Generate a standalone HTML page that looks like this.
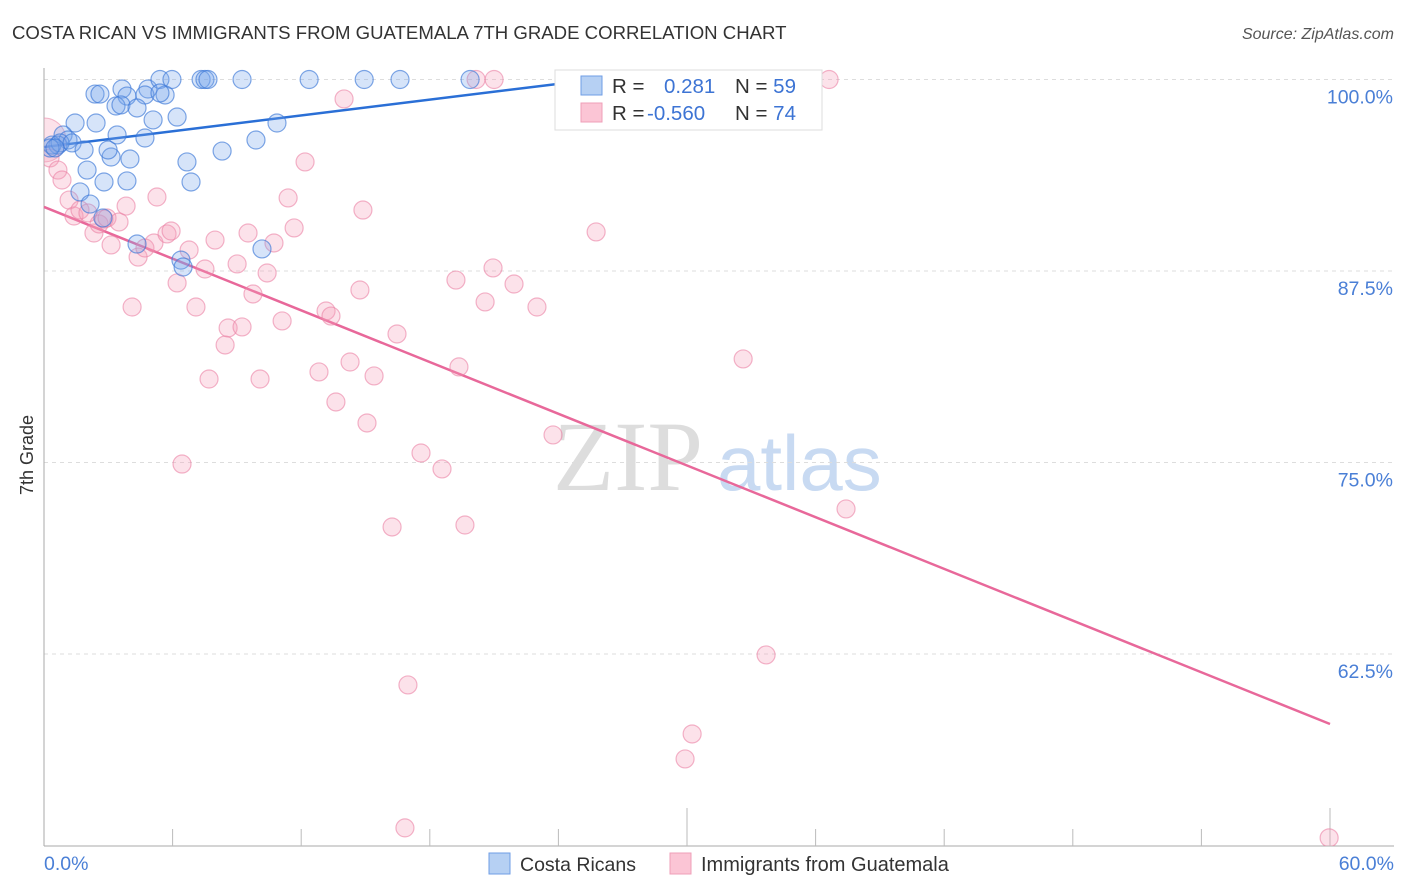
<!DOCTYPE html>
<html><head><meta charset="utf-8"><style>
body{margin:0;background:#fff;font-family:"Liberation Sans",sans-serif;}
svg{display:block}
</style></head><body>
<svg id="c" width="1406" height="892" xmlns="http://www.w3.org/2000/svg">
<defs><clipPath id="plotclip"><rect x="44" y="60" width="1360" height="786"/></clipPath></defs>
<text x="12" y="39" font-size="18.6" fill="#333">COSTA RICAN VS IMMIGRANTS FROM GUATEMALA 7TH GRADE CORRELATION CHART</text>
<text x="1394" y="39" font-size="16" fill="#555" text-anchor="end" font-style="italic">Source: ZipAtlas.com</text>
<text transform="translate(33,455) rotate(-90)" font-size="18" fill="#333" text-anchor="middle">7th Grade</text>
<g>
<text x="553" y="490" font-size="100" fill="#ddd" font-family="Liberation Serif,serif">ZIP</text>
<text x="717" y="490" font-size="78" fill="#c8daf2">atlas</text>
</g>
<g id="grid"></g><g id="axes"></g><g id="lines"></g><g id="pts" clip-path="url(#plotclip)"></g>
<g>
<rect x="555" y="70" width="267" height="60" fill="#fff" stroke="#ddd"/>
<rect x="581" y="76" width="21" height="19" fill="#b6d0f3" stroke="#6f9ee6"/>
<rect x="581" y="103" width="21" height="19" fill="#fbc5d5" stroke="#ef9fb8"/>
<text x="612" y="93" font-size="20.5" fill="#333">R = <tspan x="664" fill="#3d74d4">0.281</tspan><tspan x="735" fill="#333">N = </tspan><tspan fill="#3d74d4">59</tspan></text>
<text x="612" y="120" font-size="20.5" fill="#333">R = <tspan x="647" fill="#3d74d4">-0.560</tspan><tspan x="735" fill="#333">N = </tspan><tspan fill="#3d74d4">74</tspan></text>
</g>
<g>
<rect x="489" y="853" width="21" height="21" fill="#b6d0f3" stroke="#6f9ee6"/>
<text x="520" y="871" font-size="19.5" fill="#333">Costa Ricans</text>
<rect x="670" y="853" width="21" height="21" fill="#fbc5d5" stroke="#ef9fb8"/>
<text x="701" y="871" font-size="20" fill="#333">Immigrants from Guatemala</text>
</g>
</svg>
<script>
const yTicks=[100,87.5,75,62.5];
const yTickLabels=["100.0%","87.5%","75.0%","62.5%"];
const xTickLabels=["0.0%","60.0%"];
const blueX=[2.38,2.61,3.64,3.87,4.85,5.41,5.97,5.65,4.71,5.41,7.33,7.51,7.65,9.24,12.37,14.94,16.61,19.88,3.36,3.59,4.34,5.09,6.21,2.43,1.45,0.89,1.12,0.65,0.37,0.75,1.31,1.87,3.13,2.99,4.01,4.71,3.41,6.67,8.31,9.89,10.87,2.01,2.80,3.87,6.86,1.68,2.15,2.75,4.34,6.39,6.49,10.17,0.28,0.51];
const blueY=[99.05,99.05,99.38,98.92,99.38,100,100,98.99,98.99,99.12,100,100,100,100,100,100,100,100,98.27,98.34,98.14,97.36,97.55,97.16,97.16,96.38,96.05,95.72,95.72,95.86,95.86,95.40,94.94,95.40,94.81,96.18,96.38,94.62,95.33,96.05,97.16,94.09,93.31,93.38,93.31,92.66,91.87,90.96,89.26,88.21,87.76,88.94,95.53,95.53];
const pinkX=[0.28,0.65,1.17,1.40,1.68,2.05,2.33,2.57,2.80,2.94,3.50,3.83,3.13,4.39,4.71,5.13,5.27,5.74,5.93,6.77,7.51,7.98,6.21,7.09,4.11,8.45,8.59,9.24,7.70,10.08,9.75,9.52,9.01,10.41,10.73,11.11,11.39,11.67,12.18,12.83,13.16,13.39,13.62,14.28,14.74,14.00,14.88,15.07,15.40,16.47,17.59,18.57,16.24,19.64,19.36,19.22,20.58,20.95,21.93,23.00,23.75,25.76,32.62,37.42,33.69,16.98,30.24,29.91,16.84,59.96,6.44,20.16,21.00,36.63,0.84];
const pinkY=[94.88,94.09,92.13,91.09,91.48,91.29,89.98,90.57,90.89,90.96,90.70,91.74,89.20,88.41,89.00,89.33,92.33,89.92,90.11,88.87,87.63,89.52,86.72,85.15,85.15,82.67,83.78,83.85,80.45,80.45,86.00,89.98,87.96,87.37,89.33,84.24,92.27,90.31,94.62,80.91,84.89,84.56,78.95,81.56,86.26,98.73,91.48,77.58,80.65,83.39,75.62,74.58,70.79,70.92,81.24,86.91,85.48,87.70,86.65,85.15,76.80,90.05,81.76,71.97,62.44,60.48,57.28,55.65,51.15,50.50,74.90,100,100,100,93.44];
const blueTrend=[95.59,99.97],blueTrendX=[0,25.48];
const pinkTrend=[91.68,57.93],pinkTrendX=[0,60];
const NS="http://www.w3.org/2000/svg";
const X=v=>44+v/60*1286;
const Y=v=>79.5+(100-v)/12.5*191.5;
function mk(tag,attrs,parent){const e=document.createElementNS(NS,tag);for(const k in attrs)e.setAttribute(k,attrs[k]);document.getElementById(parent).appendChild(e);return e;}
yTicks.forEach((t,i)=>{
 let l=mk('line',{x1:44,x2:1394,y1:Y(t),y2:Y(t),stroke:'#ddd','stroke-dasharray':'4,4'},'grid');
 
 
 let tx=mk('text',{x:1393,y:Y(t)+24,'font-size':19.5,fill:'#4a7fd6','text-anchor':'end'},'grid');
 tx.textContent=yTickLabels[i];
 
 
});
let ax=mk('line',{x1:44,x2:1394,y1:846,y2:846,stroke:'#aaa'},'axes');


let ay=mk('line',{x1:44,x2:44,y1:68,y2:846,stroke:'#aaa'},'axes');


for(let i=1;i<=10;i++){
 let v=i*6;
 let tk=mk('line',{x1:X(v),x2:X(v),y1:(i==5||i==10)?808:829,y2:846,stroke:'#bbb'},'axes');
 
 
}
[[0,44,'start'],[1,1394,'end']].forEach(([i,x,a])=>{
 let t=mk('text',{x:x,y:870,'font-size':19.5,fill:'#4a7fd6','text-anchor':a},'axes');
 t.textContent=xTickLabels[i];
 
 
});
let bl=mk('line',{x1:X(blueTrendX[0]),y1:Y(blueTrend[0]),x2:X(blueTrendX[1]),y2:Y(blueTrend[1]),stroke:'#2a6fd6','stroke-width':2.5},'lines');


let pl=mk('line',{x1:X(pinkTrendX[0]),y1:Y(pinkTrend[0]),x2:X(pinkTrendX[1]),y2:Y(pinkTrend[1]),stroke:'#e8689a','stroke-width':2.5},'lines');


let big=mk('circle',{cx:X(0),cy:Y(96.05),r:22,fill:'rgba(245,160,185,0.3)',stroke:'rgba(235,140,170,0.6)'},'pts');


pinkX.forEach((x,i)=>{
 let c=mk('circle',{cx:X(x),cy:Y(pinkY[i]),r:9,fill:'rgba(245,160,185,0.3)',stroke:'rgba(235,130,165,0.6)','stroke-width':1.2},'pts');
 
 
});
blueX.forEach((x,i)=>{
 let c=mk('circle',{cx:X(x),cy:Y(blueY[i]),r:9,fill:'rgba(120,165,235,0.3)',stroke:'rgba(60,120,215,0.65)','stroke-width':1.2},'pts');
 
 
});
</script>
</body></html>
